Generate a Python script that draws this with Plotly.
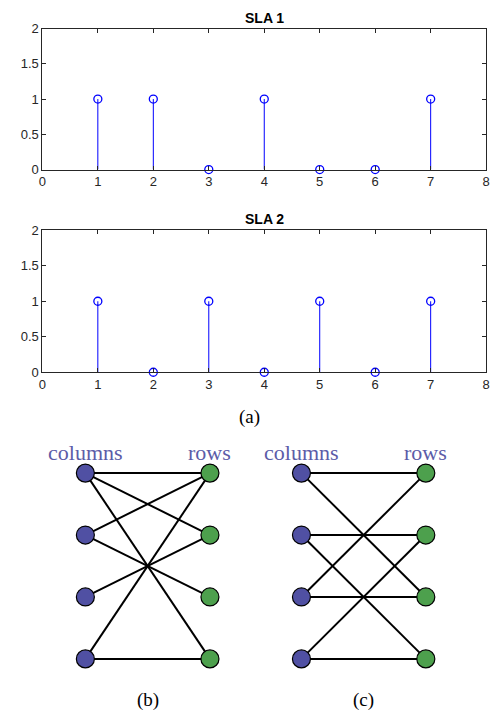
import plotly.graph_objects as go

W, H = 498, 723

# ---- data ----
sla_index = [1, 2, 3, 4, 5, 6, 7]
sla1_values = [1, 1, 0, 1, 0, 0, 1]
sla2_values = [1, 0, 1, 0, 1, 0, 1]
x_ticks = [0, 1, 2, 3, 4, 5, 6, 7, 8]
y_ticks = [0, 0.5, 1, 1.5, 2]
y_tick_labels = ["0", "0.5", "1", "1.5", "2"]

graph_nodes = [1, 2, 3, 4]
# (column node, row node) edges
edges_b = [(1, 1), (1, 2), (1, 4), (2, 1), (2, 3), (3, 2), (4, 1), (4, 4)]
edges_c = [(1, 1), (1, 3), (2, 2), (2, 4), (3, 1), (3, 3), (4, 2), (4, 4)]


def px_x(v):
    return v / W


def px_y(v):
    return 1 - v / H


fig = go.Figure()

STEM = "#0000FF"
AXC = "#262626"


def stem(xs, ys, xa, ya):
    lx, ly = [], []
    for x, y in zip(xs, ys):
        lx += [x, x, None]
        ly += [0, y, None]
    fig.add_trace(go.Scatter(x=lx, y=ly, mode="lines", xaxis=xa, yaxis=ya,
                             line=dict(color=STEM, width=1), hoverinfo="skip",
                             showlegend=False))
    fig.add_trace(go.Scatter(x=xs, y=ys, mode="markers", xaxis=xa, yaxis=ya,
                             marker=dict(symbol="circle-open", size=8, color=STEM,
                                         line=dict(color=STEM, width=1.3)),
                             cliponaxis=False, showlegend=False))


stem(sla_index, sla1_values, "x", "y")
stem(sla_index, sla2_values, "x2", "y2")

NODE_B = "#5050A3"
NODE_G = "#4DA04D"


def graph(edges, xa, ya):
    lx, ly = [], []
    for c, r in edges:
        lx += [0, 1, None]
        ly += [c, r, None]
    fig.add_trace(go.Scatter(x=lx, y=ly, mode="lines", xaxis=xa, yaxis=ya,
                             line=dict(color="black", width=2), hoverinfo="skip",
                             showlegend=False, cliponaxis=False))
    fig.add_trace(go.Scatter(x=[0] * len(graph_nodes), y=graph_nodes, mode="markers",
                             xaxis=xa, yaxis=ya, cliponaxis=False, showlegend=False,
                             marker=dict(size=18, color=NODE_B,
                                         line=dict(color="black", width=1.2))))
    fig.add_trace(go.Scatter(x=[1] * len(graph_nodes), y=graph_nodes, mode="markers",
                             xaxis=xa, yaxis=ya, cliponaxis=False, showlegend=False,
                             marker=dict(size=18, color=NODE_G,
                                         line=dict(color="black", width=1.2))))


graph(edges_b, "x3", "y3")
graph(edges_c, "x4", "y4")

ax_common = dict(showline=True, linecolor=AXC, linewidth=1, mirror="allticks",
                 ticks="inside", ticklen=4, tickcolor=AXC, tickwidth=1,
                 showgrid=False, zeroline=False, ticklabeloverflow="allow",
                 tickfont=dict(family="Liberation Sans, Arial", size=13, color=AXC))

x_dom = [px_x(39), px_x(490)]
fig.update_layout(
    xaxis=dict(domain=x_dom, range=[0, 8], tickvals=x_ticks, anchor="y", **ax_common),
    yaxis=dict(domain=[px_y(166), px_y(22)], range=[0, 2], tickvals=y_ticks,
               ticktext=y_tick_labels, anchor="x", **ax_common),
    xaxis2=dict(domain=x_dom, range=[0, 8], tickvals=x_ticks, anchor="y2", **ax_common),
    yaxis2=dict(domain=[px_y(373), px_y(228)], range=[0, 2], tickvals=y_ticks,
                ticktext=y_tick_labels, anchor="x2", **ax_common),
)

g_hidden = dict(visible=False, showgrid=False, zeroline=False, fixedrange=True)
r = 0.25
sb = 209.3 - 82.7
sc = 428.7 - 302.3
sy = (665.7 - 476) / 3
fig.update_layout(
    xaxis3=dict(domain=[px_x(82.7 - r * sb), px_x(209.3 + r * sb)], range=[-r, 1 + r],
                anchor="y3", **g_hidden),
    yaxis3=dict(domain=[px_y(665.7 + sy / 2), px_y(476 - sy / 2)], range=[4.5, 0.5],
                anchor="x3", **g_hidden),
    xaxis4=dict(domain=[px_x(302.3 - r * sc), px_x(428.7 + r * sc)], range=[-r, 1 + r],
                anchor="y4", **g_hidden),
    yaxis4=dict(domain=[px_y(665.7 + sy / 2), px_y(476 - sy / 2)], range=[4.5, 0.5],
                anchor="x4", **g_hidden),
)

ann = []
title_font = dict(family="Liberation Sans, Arial", size=14, color="black")
ann.append(dict(text="<b>SLA 1</b>", x=px_x(264.5), y=px_y(11), xref="paper", yref="paper",
                showarrow=False, font=title_font, xanchor="center", yanchor="middle"))
ann.append(dict(text="<b>SLA 2</b>", x=px_x(264.5), y=px_y(216), xref="paper", yref="paper",
                showarrow=False, font=title_font, xanchor="center", yanchor="middle"))
cap_font = dict(family="Liberation Serif, Times New Roman", size=19, color="black")
ann.append(dict(text="(a)", x=px_x(250), y=px_y(419), xref="paper", yref="paper",
                showarrow=False, font=cap_font, xanchor="center", yanchor="middle"))
ann.append(dict(text="(b)", x=0.5, y=px_y(708), xref="x3 domain", yref="paper",
                showarrow=False, font=cap_font, xanchor="center", yanchor="middle"))
ann.append(dict(text="(c)", x=0.5, y=px_y(708), xref="x4 domain", yref="paper",
                showarrow=False, font=cap_font, xanchor="center", yanchor="middle"))
lab_font = dict(family="Liberation Serif, Times New Roman", size=22, color="#5C5CA8")
for xr in ["x3", "x4"]:
    ann.append(dict(text="columns", x=0, y=px_y(455), xref=xr, yref="paper",
                    showarrow=False, font=lab_font, xanchor="center", yanchor="middle"))
    ann.append(dict(text="rows", x=1, y=px_y(455), xref=xr, yref="paper",
                    showarrow=False, font=lab_font, xanchor="center", yanchor="middle"))

fig.update_layout(width=W, height=H, margin=dict(l=0, r=0, t=0, b=0),
                  paper_bgcolor="white", plot_bgcolor="white",
                  annotations=ann, showlegend=False)

fig.write_html("out.html", config={"displayModeBar": False},
               post_script="document.body.style.margin='0';"
                           "document.body.style.overflow='hidden';")
